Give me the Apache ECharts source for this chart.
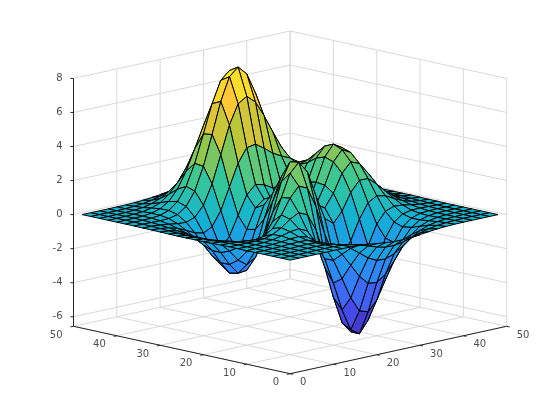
<!DOCTYPE html>
<html>
<head>
<meta charset="utf-8">
<style>html,body{margin:0;padding:0;background:#fff}#c{width:560px;height:420px}</style>
<script src="https://cdn.jsdelivr.net/npm/echarts@6/dist/echarts.min.js"></script>
</head>
<body>
<div id="c"></div>
<script>
// Surface heights are hand-estimated literals on a coarser mesh (every second mesh line of the picture).
const gridX = [1,3,5,7,9,11,13,15,17,19,21,23,25,27,29,31,33,35,37,39,41,43,45,47,49];
const gridY = [1,3,5,7,9,11,13,15,17,19,21,23,25,27,29,31,33,35,37,39,41,43,45,47,49];
const surfaceZ = [
[0,0,0,0,0,.01,0,0,-.03,-.08,-.14,-.2,-.25,-.25,-.22,-.17,-.11,-.06,-.03,-.01,0,0,0,0,0],
[0,0,0,0,.01,.01,.01,-.02,-.1,-.22,-.39,-.56,-.68,-.69,-.61,-.46,-.3,-.17,-.08,-.03,-.01,0,0,0,0],
[0,0,0,.01,.02,.02,0,-.07,-.23,-.53,-.92,-1.31,-1.57,-1.6,-1.41,-1.06,-.69,-.38,-.18,-.08,-.03,-.01,0,0,0],
[0,0,.01,.01,.03,.04,.01,-.12,-.44,-.99,-1.74,-2.51,-3.02,-3.1,-2.72,-2.05,-1.32,-.73,-.35,-.14,-.05,-.01,0,0,0],
[0,0,.01,.02,.05,.07,.05,-.13,-.59,-1.45,-2.64,-3.88,-4.76,-4.93,-4.35,-3.27,-2.1,-1.15,-.53,-.2,-.06,-.01,0,0,0],
[0,0,.01,.03,.07,.13,.15,.02,-.46,-1.48,-3.01,-4.7,-5.98,-6.33,-5.64,-4.24,-2.69,-1.42,-.61,-.21,-.04,0,.01,0,0],
[0,0,.01,.03,.08,.19,.33,.39,.15,-.68,-2.19,-4.08,-5.68,-6.33,-5.76,-4.32,-2.64,-1.27,-.44,-.07,.04,.05,.03,.01,0],
[0,-.01,-.01,-.01,.03,.17,.45,.84,1.11,.88,-.14,-1.84,-3.6,-4.6,-4.4,-3.22,-1.74,-.56,.08,.27,.23,.13,.06,.02,.01],
[-.01,-.02,-.06,-.1,-.13,-.04,.3,.98,1.86,2.45,2.22,1,-.72,-2.02,-2.22,-1.43,-.27,.58,.88,.77,.5,.26,.11,.04,.01],
[-.02,-.05,-.12,-.25,-.42,-.51,-.28,.49,1.78,3.09,3.63,2.94,1.4,-.01,-.41,.2,1.18,1.79,1.78,1.35,.82,.41,.18,.06,.02],
[-.03,-.08,-.2,-.44,-.8,-1.16,-1.21,-.6,.8,2.49,3.55,3.3,2,.7,.39,1.14,2.2,2.76,2.56,1.88,1.12,.56,.24,.09,.03],
[-.03,-.1,-.27,-.6,-1.14,-1.78,-2.16,-1.84,-.57,1.23,2.56,2.63,1.58,.53,.48,1.5,2.76,3.37,3.09,2.25,1.34,.67,.28,.1,.03],
[-.04,-.11,-.3,-.69,-1.33,-2.14,-2.77,-2.71,-1.65,.06,1.48,1.75,.98,.19,.37,1.57,2.94,3.58,3.27,2.37,1.41,.7,.3,.11,.03],
[-.04,-.11,-.29,-.67,-1.32,-2.16,-2.87,-2.98,-2.15,-.65,.68,1.06,.52,-.03,.28,1.47,2.76,3.36,3.06,2.22,1.32,.66,.28,.1,.03],
[-.03,-.09,-.25,-.57,-1.12,-1.85,-2.49,-2.64,-2,-.76,.39,.8,.46,.09,.38,1.34,2.38,2.83,2.56,1.85,1.09,.54,.23,.08,.03],
[-.02,-.07,-.18,-.42,-.82,-1.33,-1.76,-1.78,-1.16,-.05,1.04,1.55,1.42,1.12,1.17,1.65,2.17,2.32,1.99,1.4,.82,.4,.17,.06,.02],
[-.01,-.04,-.11,-.25,-.48,-.74,-.86,-.6,.23,1.51,2.79,3.59,3.69,3.34,2.94,2.66,2.43,2.09,1.58,1.04,.58,.28,.12,.04,.01],
[-.01,-.02,-.06,-.12,-.2,-.23,-.05,.55,1.69,3.29,4.92,6.06,6.39,5.94,5.02,3.97,2.97,2.09,1.35,.79,.41,.19,.07,.03,.01],
[0,-.01,-.02,-.03,-.01,.11,.48,1.27,2.61,4.37,6.2,7.54,8,7.48,6.25,4.72,3.25,2.05,1.19,.62,.29,.12,.05,.02,0],
[0,0,0,.01,.07,.24,.65,1.43,2.67,4.29,5.96,7.22,7.68,7.2,5.99,4.45,2.96,1.78,.96,.47,.21,.08,.03,.01,0],
[0,0,.01,.02,.08,.23,.55,1.16,2.1,3.31,4.56,5.51,5.86,5.5,4.57,3.37,2.21,1.29,.68,.32,.13,.05,.02,.01,0],
[0,0,.01,.02,.06,.16,.36,.74,1.32,2.07,2.84,3.43,3.65,3.43,2.84,2.09,1.36,.79,.41,.19,.08,.03,.01,0,0],
[0,0,0,.01,.03,.08,.19,.39,.69,1.07,1.47,1.77,1.88,1.77,1.47,1.08,.7,.4,.21,.09,.04,.01,0,0,0],
[0,0,0,0,.01,.04,.08,.17,.3,.46,.64,.77,.82,.77,.64,.47,.3,.17,.09,.04,.02,.01,0,0,0],
[0,0,0,0,.01,.01,.03,.06,.11,.17,.23,.28,.3,.28,.23,.17,.11,.06,.03,.01,.01,0,0,0,0]
];
const xTicks = [0,10,20,30,40,50];
const yTicks = [0,10,20,30,40,50];
const zTicks = [-6,-4,-2,0,2,4,6,8];
const xLim = [0,50], yLim = [0,50], zLim = [-6.56,8];
const colorLim = [-6.55,8.1];
const DEPTH = 0.0557;              // view: z-units of screen rise per x+y unit
const parula = [[62,38,168],[72,82,244],[46,135,247],[18,177,214],[55,200,151],[171,199,57],[254,195,56],[249,251,21]];

const projU = (x,y) => x - y;
const projV = (x,y,z) => z + DEPTH*(x + y);
const pt = (api,x,y,z) => api.coord([projU(x,y), projV(x,y,z)]);

function colorOf(z){
  let t = (z-colorLim[0])/(colorLim[1]-colorLim[0]);
  t = Math.max(0,Math.min(1,t))*(parula.length-1);
  const i = Math.min(parula.length-2,Math.floor(t)), f = t-i;
  const c = parula[i].map((v,k)=>Math.round(v+(parula[i+1][k]-v)*f));
  return 'rgb('+c.join(',')+')';
}

// back-to-front order of the mesh cells
const cells = [];
for(let j=0;j<gridY.length-1;j++) for(let i=0;i<gridX.length-1;i++) cells.push([i,j]);
cells.sort((a,b)=>(b[0]+b[1])-(a[0]+a[1]));

// walls and floor
const GRID='#d9d9d9', AXIS='#262626';
const segs=[];
const [x0,x1]=xLim,[y0,y1]=yLim,[z0,z1]=zLim;
xTicks.forEach(x=>{ segs.push([x,y0,z0,x,y1,z0,GRID]); segs.push([x,y1,z0,x,y1,z1,GRID]); });
yTicks.forEach(y=>{ segs.push([x0,y,z0,x1,y,z0,GRID]); segs.push([x1,y,z0,x1,y,z1,GRID]); });
zTicks.forEach(z=>{ segs.push([x0,y1,z,x1,y1,z,GRID]); segs.push([x1,y1,z,x1,y0,z,GRID]); });
segs.push([x0,y1,z0,x0,y1,z1,AXIS]);
segs.push([x0,y0,z0,x0,y1,z0,AXIS]);
segs.push([x0,y0,z0,x1,y0,z0,AXIS]);
const TL=0.7;
yTicks.forEach(y=>segs.push([x0,y,z0,x0-TL,y,z0,AXIS]));
xTicks.forEach(x=>segs.push([x,y0,z0,x,y0-TL,z0,AXIS]));
zTicks.forEach(z=>segs.push([x0,y1,z,x0-TL/2,y1+TL/2,z,AXIS]));

const labels=[];
yTicks.forEach(y=>labels.push([x0,y,z0,String(y),'right',-11,9]));
xTicks.forEach(x=>labels.push([x,y0,z0,String(x),'left',10,9]));
zTicks.forEach(z=>labels.push([x0,y1,z,String(z),'right',-11,0]));

const chart = echarts.init(document.getElementById('c'),null,{renderer:'canvas'});
chart.setOption({
  animation:false,
  backgroundColor:'#fff',
  grid:{left:73.5,right:53.3,top:31,bottom:46.3,containLabel:false},
  xAxis:{type:'value',min:-50,max:50,show:false},
  yAxis:{type:'value',min:zLim[0],max:zLim[1]+DEPTH*100,show:false},
  series:[
    {type:'custom',coordinateSystem:'cartesian2d',silent:true,clip:false,z:1,
     data:segs.map((s,i)=>[i]),
     renderItem:(p,api)=>{
       const s=segs[api.value(0)];
       const a=pt(api,s[0],s[1],s[2]), b=pt(api,s[3],s[4],s[5]);
       return {type:'line',shape:{x1:a[0],y1:a[1],x2:b[0],y2:b[1]},style:{stroke:s[6],lineWidth:1,fill:null}};
     }},
    {type:'custom',coordinateSystem:'cartesian2d',silent:true,clip:false,z:2,
     data:cells,
     renderItem:(p,api)=>{
       const i=api.value(0), j=api.value(1);
       const xa=gridX[i], xb=gridX[i+1], ya=gridY[j], yb=gridY[j+1];
       const za=surfaceZ[j][i], zb=surfaceZ[j][i+1], zc=surfaceZ[j+1][i+1], zd=surfaceZ[j+1][i];
       return {type:'polygon',
         shape:{points:[pt(api,xa,ya,za),pt(api,xb,ya,zb),pt(api,xb,yb,zc),pt(api,xa,yb,zd)]},
         style:{fill:colorOf((za+zb+zc+zd)/4),stroke:'#000',lineWidth:1}};
     }},
    {type:'custom',coordinateSystem:'cartesian2d',silent:true,clip:false,z:3,
     data:labels.map((s,i)=>[i]),
     renderItem:(p,api)=>{
       const l=labels[api.value(0)];
       const a=pt(api,l[0],l[1],l[2]);
       return {type:'text',x:a[0]+l[5],y:a[1]+l[6],
         style:{text:l[3],align:l[4],verticalAlign:'middle',fill:'#4d4d4d',font:'10px "DejaVu Sans"'}};
     }}
  ]
});
</script>
</body>
</html>
